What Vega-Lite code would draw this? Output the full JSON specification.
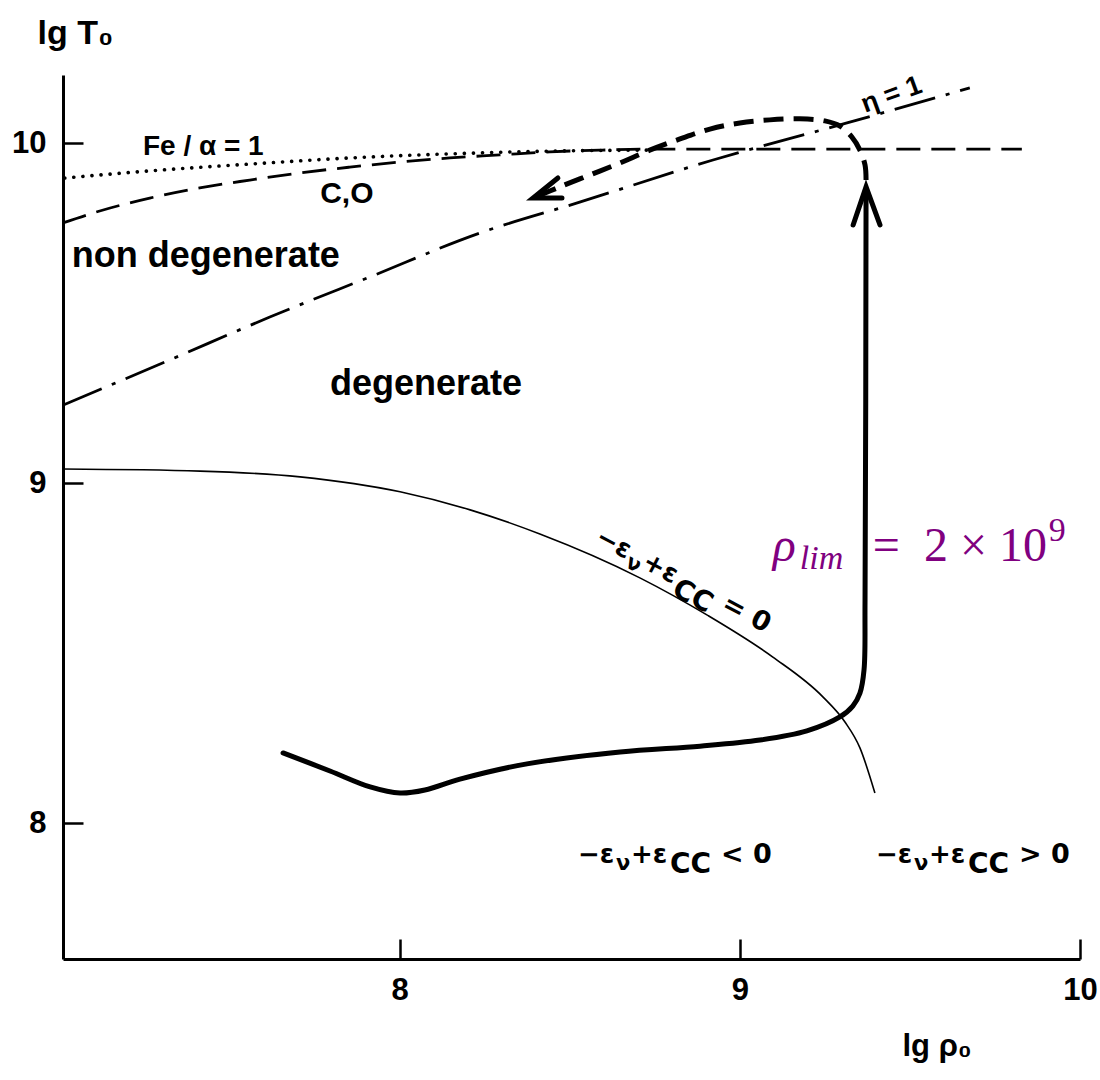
{
  "$schema": "https://vega.github.io/schema/vega-lite/v6.json",
  "width": 1017,
  "height": 884,
  "autosize": {"type": "none"},
  "padding": {"left": 63, "top": 75, "right": 20, "bottom": 121},
  "background": "white",
  "config": {"view": {"stroke": null}, "font": "Liberation Sans"},
  "datasets": {
    "fe": [{"x":7.015,"y":9.897},{"x":7.265,"y":9.918},{"x":7.559,"y":9.938},{"x":7.853,"y":9.956},{"x":8.147,"y":9.968},{"x":8.441,"y":9.976},{"x":8.735,"y":9.979}],
    "co": [{"x":7.01,"y":9.765},{"x":7.118,"y":9.8},{"x":7.265,"y":9.838},{"x":7.412,"y":9.868},{"x":7.559,"y":9.891},{"x":7.706,"y":9.912},{"x":7.853,"y":9.929},{"x":8.0,"y":9.944},{"x":8.147,"y":9.956},{"x":8.294,"y":9.965},{"x":8.441,"y":9.974},{"x":8.588,"y":9.979},{"x":8.735,"y":9.982},{"x":9.829,"y":9.982}],
    "eta": [{"x":7.01,"y":9.229},{"x":7.324,"y":9.362},{"x":7.618,"y":9.488},{"x":7.912,"y":9.606},{"x":8.235,"y":9.735},{"x":8.529,"y":9.826},{"x":8.921,"y":9.95},{"x":9.315,"y":10.059},{"x":9.676,"y":10.162}],
    "ecc": [{"x":7.01,"y":9.041},{"x":7.413,"y":9.035},{"x":7.707,"y":9.018},{"x":8.001,"y":8.974},{"x":8.207,"y":8.921},{"x":8.412,"y":8.85},{"x":8.706,"y":8.721},{"x":8.903,"y":8.612},{"x":9.097,"y":8.488},{"x":9.244,"y":8.371},{"x":9.309,"y":8.297},{"x":9.353,"y":8.221},{"x":9.397,"y":8.088}],
    "track": [{"x":7.657,"y":8.206},{"x":7.795,"y":8.153},{"x":7.913,"y":8.106},{"x":8.001,"y":8.088},{"x":8.074,"y":8.097},{"x":8.177,"y":8.129},{"x":8.374,"y":8.174},{"x":8.648,"y":8.209},{"x":8.883,"y":8.226},{"x":9.059,"y":8.244},{"x":9.197,"y":8.271},{"x":9.294,"y":8.312},{"x":9.332,"y":8.344},{"x":9.353,"y":8.382},{"x":9.365,"y":8.45},{"x":9.368,"y":8.656},{"x":9.371,"y":9.862}],
    "loop": [{"x":9.371,"y":9.891},{"x":9.368,"y":9.935},{"x":9.353,"y":9.979},{"x":9.329,"y":10.018},{"x":9.294,"y":10.05},{"x":9.25,"y":10.065},{"x":9.176,"y":10.071},{"x":9.088,"y":10.068},{"x":9.0,"y":10.059},{"x":8.912,"y":10.041},{"x":8.824,"y":10.012},{"x":8.735,"y":9.979},{"x":8.647,"y":9.941},{"x":8.559,"y":9.906},{"x":8.471,"y":9.871},{"x":8.4,"y":9.841}],
    "heads": [{"g":"up","x":9.333,"y":9.759},{"g":"up","x":9.371,"y":9.871},{"g":"up","x":9.412,"y":9.759},{"g":"back","x":8.465,"y":9.897},{"g":"back","x":8.392,"y":9.838},{"g":"back","x":8.477,"y":9.838}],
    "epsh": [{"x":8.524,"y":7.882,"rel":"< 0"},{"x":9.4,"y":7.882,"rel":"> 0"}],
    "epsr": [{"x":8.571,"y":8.826,"rel":"= 0"}],
    "rho": [{"x":9.097,"y":8.771}]
  },
  "encoding": {
    "x": {"field":"x","type":"quantitative","scale":{"domain":[7.01,10.0],"nice":false,"zero":false},
      "axis":{"values":[8,9,10],"format":"d","title":"lg ρ₀","titleX":839,"titleY":96,"titleAlign":"left","titleBaseline":"alphabetic","titleAngle":0,"titleFont":"Liberation Sans","titleFontSize":31,"titleFontWeight":"bold","titleColor":"black","labelFont":"Liberation Sans","labelFontSize":31,"labelFontWeight":"bold","labelColor":"black","labelPadding":36,"labelFlush":false,"labelOverlap":false,"tickSize":-20,"tickWidth":2.5,"tickColor":"black","domainColor":"black","domainWidth":3,"grid":false}},
    "y": {"field":"y","type":"quantitative","scale":{"domain":[7.6,10.2],"nice":false,"zero":false},
      "axis":{"values":[8,9,10],"format":"d","title":"lg T₀","titleX":-26,"titleY":-32,"titleAlign":"left","titleBaseline":"alphabetic","titleAngle":0,"titleFont":"Liberation Sans","titleFontSize":34,"titleFontWeight":"bold","titleColor":"black","labelFont":"Liberation Sans","labelFontSize":31,"labelFontWeight":"bold","labelColor":"black","labelPadding":37,"labelFlush":false,"labelOverlap":false,"tickSize":-20,"tickWidth":2.5,"tickColor":"black","domainColor":"black","domainWidth":3,"grid":false}}
  },
  "layer": [
    {"data":{"name":"fe"},"mark":{"type":"line","color":"black","strokeWidth":3.6,"strokeDash":[0.1,9],"strokeCap":"round","interpolate":"monotone"},"encoding":{"order":{"value":null}}},
    {"data":{"name":"co"},"mark":{"type":"line","color":"black","strokeWidth":2.8,"strokeDash":[24,11],"interpolate":"monotone"},"encoding":{"order":{"value":null}}},
    {"data":{"name":"eta"},"mark":{"type":"line","color":"black","strokeWidth":2.8,"strokeDash":[42,11,4,11],"interpolate":"monotone"},"encoding":{"order":{"value":null}}},
    {"data":{"name":"ecc"},"mark":{"type":"line","color":"black","strokeWidth":1.6,"interpolate":"monotone"},"encoding":{"order":{"value":null}}},
    {"data":{"name":"track"},"mark":{"type":"line","color":"black","strokeWidth":5,"strokeCap":"round","strokeJoin":"round","interpolate":"catmull-rom"},"encoding":{"order":{"value":null}}},
    {"data":{"name":"loop"},"mark":{"type":"line","color":"black","strokeWidth":5,"strokeDash":[20,10],"interpolate":"catmull-rom"},"encoding":{"order":{"value":null}}},
    {"data":{"name":"heads"},"mark":{"type":"line","color":"black","strokeWidth":5,"strokeCap":"round","strokeJoin":"miter"},"encoding":{"detail":{"field":"g"},"order":{"value":null}}},
    {"data":{"values":[{"x":7.245,"y":9.965}]},"mark":{"type":"text","align":"left","baseline":"alphabetic","font":"Liberation Sans","fontWeight":"bold","fontSize":28,"color":"black"},"encoding":{"text":{"value":"Fe / α = 1"}}},
    {"data":{"values":[{"x":7.766,"y":9.824}]},"mark":{"type":"text","align":"left","baseline":"alphabetic","font":"Liberation Sans","fontWeight":"bold","fontSize":30,"color":"black"},"encoding":{"text":{"value":"C,O"}}},
    {"data":{"values":[{"x":7.036,"y":9.635,"t":"non degenerate"},{"x":7.795,"y":9.259,"t":"degenerate"}]},"mark":{"type":"text","align":"left","baseline":"alphabetic","font":"Liberation Sans","fontWeight":"bold","fontSize":36,"color":"black"},"encoding":{"text":{"field":"t"}}},
    {"data":{"values":[{"x":9.368,"y":10.088}]},"mark":{"type":"text","align":"left","baseline":"alphabetic","font":"Liberation Sans","fontWeight":"bold","fontSize":27,"angle":-20,"color":"black"},"encoding":{"text":{"value":"η = 1"}}},
    {"data":{"name":"epsh"},"mark":{"type":"text","align":"left","baseline":"alphabetic","font":"DejaVu Sans","fontWeight":"bold","fontSize":26,"color":"black"},"encoding":{"text":{"value":"−ε"}}},
    {"data":{"name":"epsh"},"mark":{"type":"text","align":"left","baseline":"alphabetic","font":"DejaVu Sans","fontWeight":"bold","fontSize":21,"dx":38,"dy":7,"color":"black"},"encoding":{"text":{"value":"ν"}}},
    {"data":{"name":"epsh"},"mark":{"type":"text","align":"left","baseline":"alphabetic","font":"DejaVu Sans","fontWeight":"bold","fontSize":26,"dx":53,"color":"black"},"encoding":{"text":{"value":"+ε"}}},
    {"data":{"name":"epsh"},"mark":{"type":"text","align":"left","baseline":"alphabetic","font":"DejaVu Sans","fontWeight":"bold","fontSize":28,"dx":92,"dy":10,"color":"black"},"encoding":{"text":{"value":"CC"}}},
    {"data":{"name":"epsh"},"mark":{"type":"text","align":"left","baseline":"alphabetic","font":"DejaVu Sans","fontWeight":"bold","fontSize":27,"dx":143,"color":"black"},"encoding":{"text":{"field":"rel"}}},
    {"data":{"name":"epsr"},"mark":{"type":"text","align":"left","baseline":"alphabetic","font":"DejaVu Sans","fontWeight":"bold","fontSize":26,"angle":28,"color":"black"},"encoding":{"text":{"value":"−ε"}}},
    {"data":{"name":"epsr"},"mark":{"type":"text","align":"left","baseline":"alphabetic","font":"DejaVu Sans","fontWeight":"bold","fontSize":21,"angle":28,"dx":38,"dy":7,"color":"black"},"encoding":{"text":{"value":"ν"}}},
    {"data":{"name":"epsr"},"mark":{"type":"text","align":"left","baseline":"alphabetic","font":"DejaVu Sans","fontWeight":"bold","fontSize":26,"angle":28,"dx":53,"color":"black"},"encoding":{"text":{"value":"+ε"}}},
    {"data":{"name":"epsr"},"mark":{"type":"text","align":"left","baseline":"alphabetic","font":"DejaVu Sans","fontWeight":"bold","fontSize":28,"angle":28,"dx":92,"dy":10,"color":"black"},"encoding":{"text":{"value":"CC"}}},
    {"data":{"name":"epsr"},"mark":{"type":"text","align":"left","baseline":"alphabetic","font":"DejaVu Sans","fontWeight":"bold","fontSize":27,"angle":28,"dx":143,"color":"black"},"encoding":{"text":{"field":"rel"}}},
    {"data":{"name":"rho"},"mark":{"type":"text","align":"left","baseline":"alphabetic","font":"Liberation Serif","fontStyle":"italic","fontSize":48,"color":"#800080"},"encoding":{"text":{"value":"ρ"}}},
    {"data":{"name":"rho"},"mark":{"type":"text","align":"left","baseline":"alphabetic","font":"Liberation Serif","fontStyle":"italic","fontSize":34,"dx":27,"dy":8,"color":"#800080"},"encoding":{"text":{"value":"lim"}}},
    {"data":{"name":"rho"},"mark":{"type":"text","align":"left","baseline":"alphabetic","font":"Liberation Serif","fontSize":48,"dx":100,"color":"#800080"},"encoding":{"text":{"value":"=\u20022 × 10"}}},
    {"data":{"name":"rho"},"mark":{"type":"text","align":"left","baseline":"alphabetic","font":"Liberation Serif","fontSize":34,"dx":276,"dy":-20,"color":"#800080"},"encoding":{"text":{"value":"9"}}}
  ]
}
